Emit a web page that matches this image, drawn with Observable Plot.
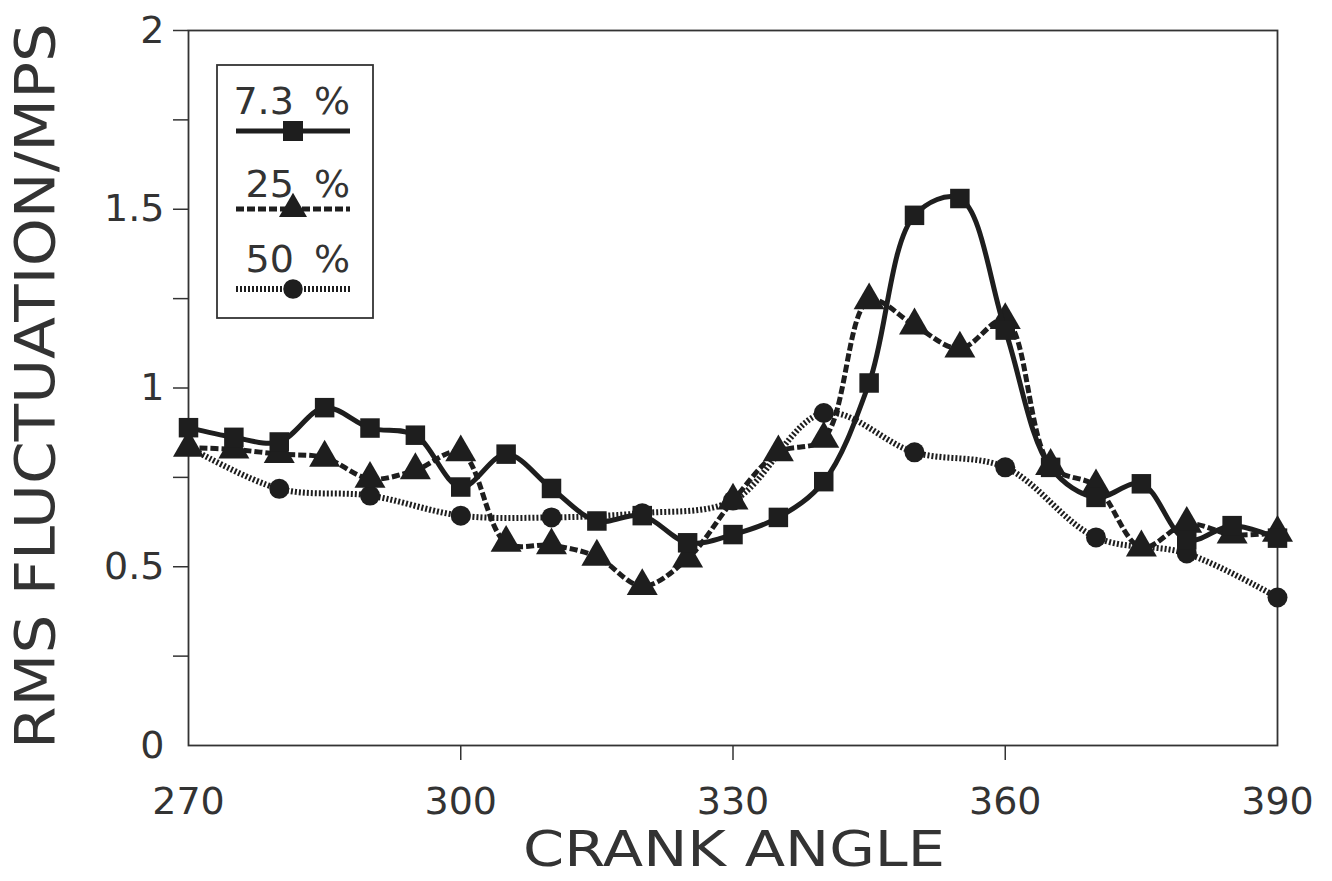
<!DOCTYPE html>
<html>
<head>
<meta charset="utf-8">
<script src="https://cdn.jsdelivr.net/npm/d3@7"></script>
<script src="https://cdn.jsdelivr.net/npm/@observablehq/plot@0.6"></script>
<style>
  html, body { margin: 0; padding: 0; background: #fff; }
  #chart { width: 1332px; height: 881px; }
  svg text { font-family: "DejaVu Sans", sans-serif; }
</style>
</head>
<body>
<div id="chart"></div>
<script>
// ---- data ----
const angles73 = [270,275,280,285,290,295,300,305,310,315,320,325,330,335,340,345,350,355,360,365,370,375,380,385,390];
const values73 = [0.889,0.862,0.849,0.945,0.888,0.868,0.723,0.815,0.719,0.628,0.643,0.567,0.590,0.638,0.738,1.014,1.483,1.530,1.162,0.778,0.694,0.732,0.575,0.615,0.580];

const angles25 = [270,275,280,285,290,295,300,305,310,315,320,325,330,335,340,345,350,355,360,365,370,375,380,385,390];
const values25 = [0.833,0.828,0.815,0.805,0.746,0.770,0.820,0.567,0.560,0.528,0.446,0.523,0.685,0.820,0.858,1.245,1.175,1.110,1.190,0.782,0.725,0.554,0.620,0.590,0.595];

const angles50 = [270,280,290,300,310,320,330,340,350,360,370,380,390];
const values50 = [0.835,0.718,0.699,0.643,0.638,0.650,0.685,0.930,0.820,0.778,0.582,0.537,0.414];

const seriesNames = ["7.3 %", "25 %", "50 %"];
const xTickValues = [270, 300, 330, 360, 390];
const yTickValues = [0, 0.5, 1, 1.5, 2];
const yMinorTicks = [0.25, 0.5, 0.75, 1, 1.25, 1.5, 1.75, 2];
const xLabel = "CRANK ANGLE";
const yLabel = "RMS FLUCTUATION/MPS";

const s73 = angles73.map((a, i) => ({angle: a, value: values73[i]}));
const s25 = angles25.map((a, i) => ({angle: a, value: values25[i]}));
const s50 = angles50.map((a, i) => ({angle: a, value: values50[i]}));

const ink = "#1e1e1e";
const textInk = "#333";

const chart = Plot.plot({
  width: 1332,
  height: 881,
  marginLeft: 188,
  marginRight: 55,
  marginTop: 30,
  marginBottom: 136,
  style: {background: "#fff", color: textInk, fontFamily: "DejaVu Sans, sans-serif"},
  x: {domain: [270, 390]},
  y: {domain: [0, 2]},
  marks: [
    Plot.axisX({ticks: [300, 330, 360], tickSize: 15, tickFormat: () => "", stroke: textInk, strokeWidth: 1.5, label: null}),
    Plot.axisX({ticks: xTickValues, tickSize: 0, tickPadding: 42, fontSize: 38, fill: textInk, label: null}),
    Plot.axisY({ticks: yMinorTicks, tickSize: 15, tickFormat: () => "", stroke: textInk, strokeWidth: 1.5, label: null}),
    Plot.axisY({ticks: yTickValues, tickSize: 0, tickPadding: 24, fontSize: 38, fill: textInk, label: null,
                tickFormat: d => String(d)}),
    Plot.frame({stroke: textInk, strokeWidth: 1.8}),
    // 50 %
    Plot.line(s50, {x: "angle", y: "value", curve: "catmull-rom", stroke: ink, strokeWidth: 6,
                    strokeDasharray: "2,2", strokeLinecap: "butt"}),
    Plot.dot(s50.slice(1), {x: "angle", y: "value", symbol: "circle", r: 10, fill: ink, stroke: "none"}),
    // 25 %
    Plot.line(s25, {x: "angle", y: "value", curve: "catmull-rom", stroke: ink, strokeWidth: 5,
                    strokeDasharray: "8,3", strokeLinecap: "butt"}),
    Plot.dot(s25, {x: "angle", y: "value", symbol: "triangle", r: 11.5, fill: ink, stroke: "none"}),
    // 7.3 %
    Plot.line(s73, {x: "angle", y: "value", curve: "catmull-rom", stroke: ink, strokeWidth: 5}),
    Plot.dot(s73, {x: "angle", y: "value", symbol: "square", r: 11, fill: ink, stroke: "none"})
  ]
});
document.getElementById("chart").appendChild(chart);

// ---- axis titles and legend ----
const svg = d3.select(chart);
svg.append("text")
  .attr("x", 734).attr("y", 866)
  .attr("text-anchor", "middle")
  .attr("font-size", 50).attr("fill", textInk)
  .attr("textLength", 422).attr("lengthAdjust", "spacingAndGlyphs")
  .text(xLabel);
svg.append("text")
  .attr("transform", "translate(54,386) rotate(-90)")
  .attr("text-anchor", "middle")
  .attr("font-size", 56).attr("fill", textInk)
  .attr("textLength", 726).attr("lengthAdjust", "spacingAndGlyphs")
  .text(yLabel);

const lg = svg.append("g");
lg.append("rect").attr("x", 217).attr("y", 65).attr("width", 156).attr("height", 253)
  .attr("fill", "#fff").attr("stroke", textInk).attr("stroke-width", 1.8);
const legendItems = [
  {name: seriesNames[0], ty: 114, ly: 131, dash: null, w: 5, sym: d3.symbolSquare, size: 400},
  {name: seriesNames[1], ty: 197, ly: 209, dash: "8,3", w: 5, sym: d3.symbolTriangle, size: 340},
  {name: seriesNames[2], ty: 272, ly: 289, dash: "2,2", w: 6, sym: d3.symbolCircle, size: 300}
];
legendItems.forEach(it => {
  lg.append("text").attr("x", 350).attr("y", it.ty).attr("text-anchor", "end")
    .attr("font-size", 38).attr("fill", textInk).attr("word-spacing", 8).text(it.name);
  const ln = lg.append("line").attr("x1", 236).attr("x2", 350).attr("y1", it.ly).attr("y2", it.ly)
    .attr("stroke", ink).attr("stroke-width", it.w);
  if (it.dash) ln.attr("stroke-dasharray", it.dash);
  lg.append("path").attr("d", d3.symbol(it.sym, it.size)())
    .attr("transform", `translate(293,${it.ly})`).attr("fill", ink);
});
</script>
</body>
</html>
